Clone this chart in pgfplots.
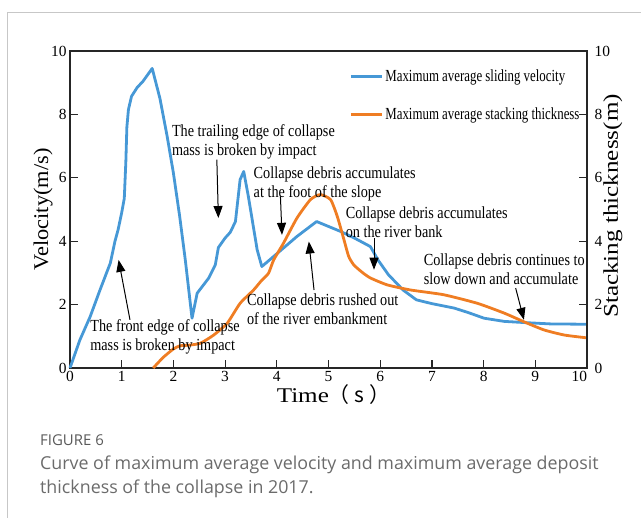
\documentclass[border=0pt]{standalone}
\usepackage{pgfplots}
\pgfplotsset{compat=1.18}
\usepackage{fontspec}
\setmainfont{Liberation Serif}
\newfontfamily\cond[FakeStretch=0.84]{Liberation Serif}
\newfontfamily\condleg[FakeStretch=0.76]{Liberation Serif}
\newfontfamily\wide[FakeStretch=1.2]{Liberation Serif}
\newfontfamily\widev[FakeStretch=1.07]{Liberation Serif}
\newfontfamily\capfont{Open Sans}
\newfontfamily\cjk{Noto Sans CJK SC}
\usetikzlibrary{arrows.meta}
\definecolor{vblue}{RGB}{70,152,214}
\definecolor{torange}{RGB}{239,125,35}
\tikzset{ann/.style={font=\cond\fontsize{17}{19}\selectfont, align=left, anchor=north west, inner sep=0pt},
  arr/.style={line width=1bp, -{Triangle[length=12bp,width=9bp]}}}
\begin{document}
\begin{tikzpicture}[x=1bp,y=1bp]
\path[use as bounding box] (0,0) rectangle (641,518);
\draw[black!22, line width=1bp] (7,0) -- (7,505) -- (641,505);
\begin{axis}[at={(70bp,150bp)}, anchor=south west, scale only axis,
  width=517bp, height=317bp,
  xmin=0, xmax=10, ymin=0, ymax=10,
  xtick={0,...,10}, ytick={0,2,...,10},
  xticklabels={0,1,2,3,4,5,6,7,8,9,{\llap{10}}},
  tick align=inside, xtick pos=left, ytick pos=left,
  major tick length=8bp,
  axis line style={line width=1.3bp, black!85},
  tick style={line width=1.2bp, black!85},
  tick label style={font=\fontsize{15.5}{16}\selectfont},
  /pgf/number format/assume math mode=true,
  xlabel={\wide\fontsize{21}{21}\selectfont Time\cjk{（}\hspace{5bp}s\hspace{5bp}\cjk{）}},
  xlabel style={at={(axis description cs:0.51,-0.11)}, anchor=base, inner sep=0pt},
  ylabel={\widev\fontsize{21}{21}\selectfont Velocity(m/s)},
  ylabel style={at={(axis description cs:-0.052,0.50)}, anchor=center, inner sep=0pt},
  clip=false,
  legend style={at={(axis cs:5.40,8.6)}, anchor=west, draw=none, fill=none, inner sep=0pt,
    font=\condleg\fontsize{17}{19}\selectfont, row sep=21bp},
  legend cell align=left,
  legend image code/.code={\draw[#1, line width=3bp] (0bp,0bp) -- (31bp,0bp);},
]
\addplot[vblue, line width=2.8bp, line join=round] coordinates {
(0,0) (0.19,0.88) (0.39,1.62) (0.58,2.46) (0.78,3.31) (0.87,4.0) (0.93,4.36) (1.0,4.9) (1.05,5.35) (1.08,6.5) (1.1,7.6) (1.13,8.15) (1.19,8.57) (1.3,8.85) (1.41,9.04) (1.59,9.45) (1.74,8.5) (1.88,7.3) (2.0,6.15) (2.12,4.8) (2.23,3.41) (2.36,1.57) (2.46,2.36) (2.68,2.83) (2.81,3.25) (2.87,3.8) (3.0,4.1) (3.1,4.28) (3.2,4.62) (3.29,5.94) (3.36,6.2) (3.45,5.41) (3.62,3.73) (3.71,3.2) (3.94,3.52) (4.39,4.15) (4.77,4.62) (5.23,4.31) (5.5,4.1) (5.81,3.83) (5.96,3.4) (6.16,2.94) (6.45,2.45) (6.7,2.15) (7.0,2.03) (7.43,1.89) (7.7,1.75) (8.01,1.57) (8.4,1.47) (8.82,1.43) (9.3,1.39) (10,1.38)
};
\addlegendentry{Maximum average sliding velocity}
\addplot[torange, line width=2.8bp, smooth, tension=0.35] coordinates {
(1.61,0) (1.8,0.33) (2.0,0.6) (2.13,0.7) (2.3,0.72) (2.52,0.78) (2.78,1.04) (3.04,1.41) (3.29,2.04) (3.55,2.46) (3.7,2.75) (3.84,2.99) (3.94,3.41) (4.13,3.94) (4.39,4.73) (4.65,5.31) (4.84,5.47) (5.04,5.31) (5.17,4.78) (5.3,4.04) (5.39,3.52) (5.49,3.25) (5.65,3.02) (5.81,2.84) (6.14,2.62) (6.59,2.46) (7.23,2.31) (7.88,2.04) (8.4,1.73) (8.82,1.43) (9.17,1.2) (9.56,1.04) (10,0.95)
};
\addlegendentry{Maximum average stacking thickness}
% annotations
\node[ann] at (axis cs:0.39,1.52) {The front edge of collapse\\mass is broken by impact};
\draw[arr] (axis cs:1.16,1.52) -- (axis cs:0.94,3.41);
\node[ann] at (axis cs:1.97,7.68) {The trailing edge of collapse\\mass is broken by impact};
\draw[arr] (axis cs:2.84,6.57) -- (axis cs:2.87,4.73);
\node[ann] at (axis cs:3.55,6.36) {Collapse debris accumulates\\at the foot of the slope};
\draw[arr] (axis cs:4.07,5.41) -- (axis cs:4.10,4.20);
\node[ann] at (axis cs:3.42,2.36) {Collapse debris rushed out\\of the river embankment};
\draw[arr] (axis cs:4.72,2.46) -- (axis cs:4.62,3.99);
\node[ann] at (axis cs:5.33,5.10) {Collapse debris accumulates\\on the river bank};
\draw[arr] (axis cs:5.88,4.10) -- (axis cs:5.88,3.10);
\node[ann] at (axis cs:6.84,3.62) {Collapse debris continues to\\slow down and accumulate};
\draw[arr] (axis cs:8.62,2.52) -- (axis cs:8.78,1.52);
\end{axis}
\begin{axis}[at={(70bp,150bp)}, anchor=south west, scale only axis,
  width=517bp, height=317bp,
  xmin=0, xmax=10, ymin=0, ymax=10,
  axis x line=none, axis y line*=right,
  ytick={0,2,...,10},
  tick align=inside, major tick length=8bp,
  axis line style={line width=1.3bp, black!85},
  tick style={line width=1.2bp, black!85},
  tick label style={font=\fontsize{15.5}{16}\selectfont},
  yticklabel style={xshift=4bp},
  /pgf/number format/assume math mode=true,
  ylabel={\wide\fontsize{21}{21}\selectfont Stacking thickness(m)},
  ylabel style={at={(axis description cs:1.050,0.511)}, anchor=center, inner sep=0pt},
]
\end{axis}
\node[anchor=base west, inner sep=0pt, font=\capfont\fontsize{15}{15}\selectfont, text=black!65] at (40,72) {FIGURE 6};
\node[anchor=base west, inner sep=0pt, font=\capfont\fontsize{17.9}{18}\selectfont, text=black!58] at (40,48) {Curve of maximum average velocity and maximum average deposit};
\node[anchor=base west, inner sep=0pt, font=\capfont\fontsize{17.9}{18}\selectfont, text=black!58] at (40,24) {thickness of the collapse in 2017.};
\end{tikzpicture}
\end{document}
